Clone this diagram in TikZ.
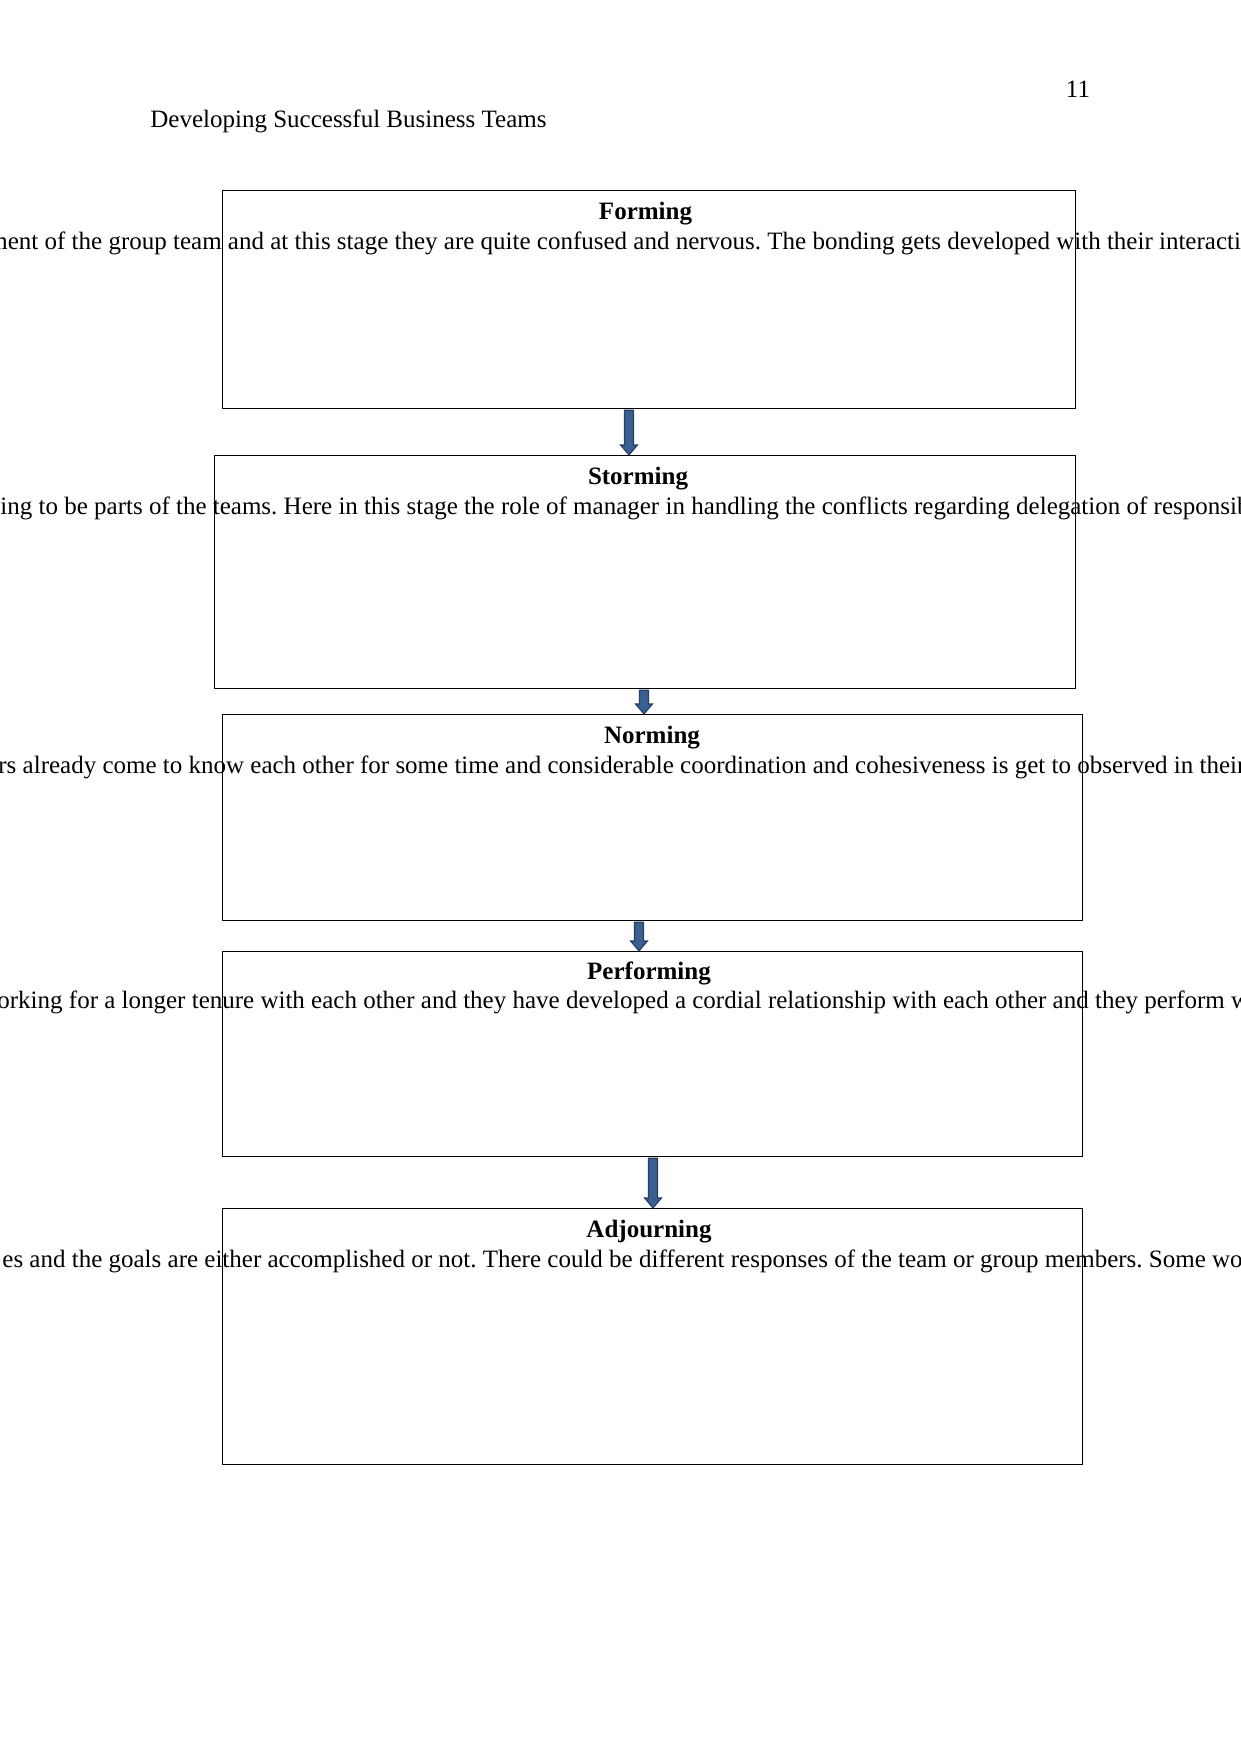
\documentclass[tikz,border=0pt]{standalone}
\usepackage{fontspec}
\setmainfont{Liberation Serif}
\usetikzlibrary{calc}
\frenchspacing
\definecolor{arrowfill}{RGB}{58,95,145}
\definecolor{arrowline}{RGB}{38,62,98}
\tikzset{
  stagebox/.style={draw=black, line width=0.6pt, anchor=north west, inner sep=0pt},
  stagetitle/.style={font=\fontsize{12pt}{14pt}\selectfont\bfseries, anchor=base, inner sep=0pt},
  stagetext/.style={font=\fontsize{12pt}{14pt}\selectfont\frenchspacing, anchor=base west, inner sep=0pt},
  headtext/.style={font=\fontsize{12pt}{14pt}\selectfont, inner sep=0pt},
  blockarrow/.style={fill=arrowfill, draw=arrowline, line width=0.5pt, line join=miter}
}
\newcommand\blkarrow[3]{%
  \filldraw[blockarrow]
    ($(#1 |- #2.south)+(-4.5,1)$) --
    ($(#1 |- #3.north)+(-4.5,-10)$) --
    ($(#1 |- #3.north)+(-8.5,-10)$) --
    (#1 |- #3.north) --
    ($(#1 |- #3.north)+(8.5,-10)$) --
    ($(#1 |- #3.north)+(4.5,-10)$) --
    ($(#1 |- #2.south)+(4.5,1)$) -- cycle;
}
\begin{document}
\begin{tikzpicture}[x=0.48pt, y=-0.48pt]
\useasboundingbox (0,0) rectangle (1241,1754);

% header
\node[headtext, anchor=base west] (hdr) at (150,127) {Developing Successful Business Teams};
\node[headtext, anchor=base] (pgno) at (1078,97) {11};

% boxes
\node[stagebox, minimum width=853.5*0.48pt, minimum height=218*0.48pt] (forming) at (221.5,190) {};
\node[stagebox, minimum width=861*0.48pt, minimum height=233*0.48pt] (storming) at (214,455) {};
\node[stagebox, minimum width=860.5*0.48pt, minimum height=206*0.48pt] (norming) at (221.5,714) {};
\node[stagebox, minimum width=860.5*0.48pt, minimum height=205*0.48pt] (performing) at (221.5,951) {};
\node[stagebox, minimum width=860.5*0.48pt, minimum height=256*0.48pt] (adjourning) at (221.5,1208) {};

% titles
\node[stagetitle] (t1) at (645.5,219.5) {Forming};
\node[stagetitle] (t2) at (638,484.5) {Storming};
\node[stagetitle] (t3) at (652,743.5) {Norming};
\node[stagetitle] (t4) at (649,979.5) {Performing};
\node[stagetitle] (t5) at (649,1237.5) {Adjourning};

% body lines
\node[stagetext] (x1) at (-12,249.5) {ment of the group team and at this stage they are quite confused and nervous. The bonding gets developed with their interaction};
\node[stagetext] (x2) at (0,514.5) {ing to be parts of the teams. Here in this stage the role of manager in handling the conflicts regarding delegation of responsibilities};
\node[stagetext] (x3) at (-2,773.5) {rs already come to know each other for some time and considerable coordination and cohesiveness is get to observed in their};
\node[stagetext] (x4) at (-3,1008.5) {orking for a longer tenure with each other and they have developed a cordial relationship with each other and they perform well};
\node[stagetext] (x5) at (2,1267.5) {es and the goals are either accomplished or not. There could be different responses of the team or group members. Some would};

% arrows
\coordinate (ax1) at (629,0);
\coordinate (ax2) at (644,0);
\coordinate (ax3) at (639,0);
\coordinate (ax4) at (653,0);
\blkarrow{ax1}{forming}{storming}
\blkarrow{ax2}{storming}{norming}
\blkarrow{ax3}{norming}{performing}
\blkarrow{ax4}{performing}{adjourning}
\end{tikzpicture}
\end{document}
